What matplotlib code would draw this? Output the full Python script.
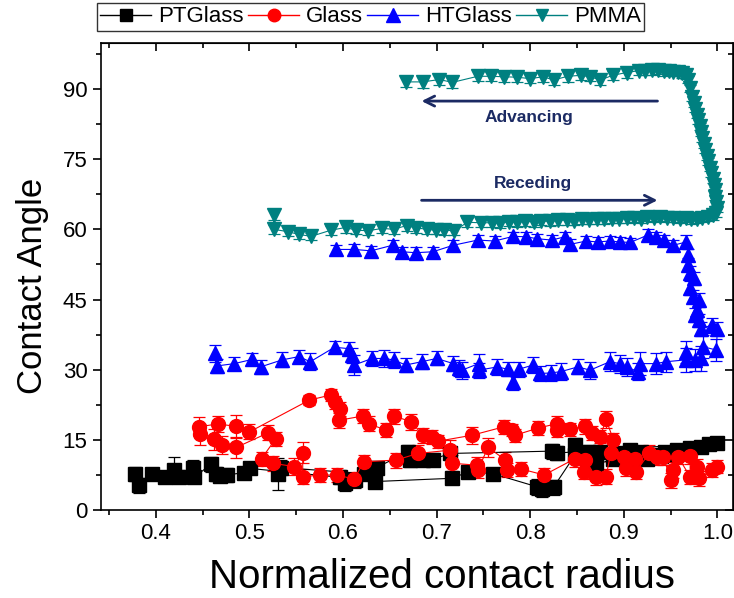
import matplotlib.pyplot as plt
from matplotlib.lines import Line2D
from matplotlib.ticker import MultipleLocator

plt.rcParams['font.family'] = ['Liberation Sans', 'DejaVu Sans']

# PTGlass: black squares
pt_x = [0.378, 0.382, 0.396, 0.410, 0.419, 0.425, 0.440, 0.441, 0.459, 0.464, 0.469, 0.476,
        0.494, 0.501, 0.597, 0.602, 0.613, 0.634, 0.717, 0.734, 0.760, 0.807, 0.813, 0.825,
        0.848, 0.862, 0.870, 0.889, 0.910, 0.925, 0.940, 0.950, 0.965,
        0.848, 0.863, 0.875, 0.896, 0.907, 0.918, 0.930, 0.944, 0.957, 0.971, 0.982, 0.991, 1.000,
        0.829, 0.823, 0.714, 0.696, 0.685, 0.672, 0.670, 0.636, 0.622, 0.534, 0.531]
pt_y = [7.8, 5.3, 7.7, 7.1, 8.5, 7.1, 9.1, 7.0, 9.8, 7.8, 7.3, 7.5,
        8.0, 8.9, 7.0, 5.8, 6.4, 6.1, 6.8, 8.2, 7.8, 5.0, 4.6, 4.9,
        11.8, 9.2, 9.6, 11.0, 10.5, 11.0, 11.5, 11.9, 12.2,
        13.9, 12.5, 12.5, 12.1, 12.8, 12.5, 11.8, 12.5, 12.8, 13.2, 13.5, 14.1, 14.4,
        12.2, 12.6, 12.1, 10.8, 10.7, 10.7, 12.5, 9.1, 7.8, 9.1, 7.7]
pt_err = [1.5, 1.6, 1.2, 1.3, 2.8, 1.4, 1.5, 1.3, 1.6, 1.5, 1.4, 1.4,
          1.3, 1.2, 1.5, 1.8, 1.6, 1.2, 1.3, 1.4, 1.3, 1.7, 1.8, 1.6,
          1.6, 1.4, 1.5, 1.3, 1.2, 1.3, 1.2, 1.3, 1.2,
          1.5, 1.4, 1.3, 1.2, 1.3, 1.2, 1.3, 1.2, 1.1, 1.2, 1.1, 1.2, 1.1,
          1.5, 1.6, 1.4, 1.3, 1.3, 1.4, 1.5, 1.4, 1.3, 1.6, 3.5]

# Glass: red circles
gl_x = [0.889, 0.881, 0.875, 0.866, 0.859, 0.843, 0.829, 0.829, 0.808, 0.784, 0.781, 0.772,
        0.738, 0.701, 0.695, 0.685, 0.673, 0.654, 0.646, 0.628, 0.621, 0.596, 0.597, 0.591,
        0.587, 0.564, 0.500, 0.486, 0.466, 0.446, 0.447, 0.462, 0.471, 0.486, 0.520, 0.528,
        0.513, 0.525, 0.548, 0.557, 0.557, 0.575, 0.594, 0.612, 0.622, 0.657, 0.680, 0.714,
        0.717, 0.743, 0.744, 0.755, 0.773, 0.775, 0.790, 0.815, 0.848, 0.858, 0.859, 0.870,
        0.881, 0.886, 0.900, 0.902, 0.912, 0.913, 0.927, 0.935, 0.942, 0.951, 0.953, 0.958,
        0.971, 0.971, 0.978, 0.980, 0.994, 1.000]
gl_y = [15.0, 19.4, 15.7, 16.4, 17.9, 17.3, 17.1, 18.5, 17.5, 16.0, 17.1, 17.8,
        16.0, 14.7, 15.7, 16.0, 18.9, 20.1, 17.1, 18.4, 20.1, 19.2, 21.6, 23.0,
        24.6, 23.5, 16.7, 17.9, 18.4, 17.8, 16.2, 15.1, 13.9, 13.4, 16.5, 15.2,
        11.0, 10.0, 9.3, 12.3, 7.1, 7.5, 7.5, 6.6, 10.3, 10.7, 12.1, 12.8,
        10.0, 9.6, 8.5, 13.4, 10.8, 8.5, 8.8, 7.5, 11.0, 8.2, 10.7, 7.1,
        7.1, 12.1, 11.3, 8.9, 11.0, 8.2, 12.1, 11.3, 11.3, 6.4, 8.5, 11.4,
        7.1, 11.5, 9.3, 6.8, 8.5, 9.3]
gl_err = [1.5, 1.8, 1.4, 1.5, 1.6, 1.4, 1.5, 1.6, 1.5, 1.4, 1.3, 1.5,
          1.8, 1.4, 1.5, 1.6, 1.7, 1.6, 1.5, 1.6, 1.5, 1.6, 1.4, 1.3,
          1.2, 1.0, 1.6, 2.5, 1.8, 2.0, 2.3, 2.2, 2.0, 2.2, 1.6, 1.5,
          1.5, 1.6, 1.8, 2.2, 1.6, 1.5, 1.4, 1.6, 1.5, 1.6, 1.8, 2.2,
          1.7, 1.8, 1.6, 2.0, 1.7, 1.5, 1.5, 1.6, 1.8, 1.6, 1.5, 1.7,
          1.6, 1.8, 1.7, 1.6, 1.5, 1.6, 1.8, 1.6, 1.7, 1.6, 1.7, 1.6,
          1.5, 1.6, 1.7, 1.6, 1.5, 1.4]

# HTGlass: blue up triangles
ht_x = [0.463, 0.465, 0.484, 0.503, 0.512, 0.535, 0.553, 0.565, 0.591, 0.606, 0.610, 0.612,
        0.631, 0.644, 0.654, 0.667, 0.684, 0.700, 0.718, 0.724, 0.727, 0.745, 0.745, 0.765,
        0.776, 0.782, 0.788, 0.803, 0.811, 0.822, 0.833, 0.851, 0.864, 0.885, 0.896, 0.903,
        0.915, 0.917, 0.934, 0.945, 0.966, 0.967, 0.976, 0.983, 0.985, 0.999,
        1.000, 0.994, 0.982, 0.980, 0.976, 0.978, 0.980, 0.974, 0.971, 0.975, 0.971, 0.969,
        0.969, 0.967,
        0.953, 0.943, 0.934, 0.926, 0.907, 0.896, 0.885, 0.872, 0.860, 0.843, 0.837, 0.823,
        0.807, 0.796, 0.782, 0.762, 0.744, 0.718, 0.696, 0.678, 0.663, 0.653, 0.630, 0.612,
        0.593]
ht_y = [33.5, 30.8, 31.3, 32.2, 30.6, 32.1, 32.8, 31.7, 34.8, 34.5, 33.1, 31.0,
        32.4, 32.4, 32.1, 31.0, 31.7, 32.4, 31.3, 30.3, 29.9, 31.3, 29.9, 30.6,
        30.1, 27.4, 30.1, 31.0, 29.2, 29.3, 29.6, 30.6, 29.9, 31.7, 31.3, 30.6,
        29.6, 31.3, 31.3, 31.7, 32.1, 33.8, 32.1, 32.4, 34.9, 34.2,
        38.8, 39.5, 38.8, 40.6, 41.7, 42.7, 44.9, 45.6, 47.4, 49.5, 50.6, 52.4,
        54.5, 57.3,
        56.6, 57.7, 58.4, 58.8, 57.2, 57.3, 57.5, 57.3, 57.5, 56.8, 58.4, 57.7,
        58.0, 58.4, 58.5, 57.5, 57.7, 56.6, 55.2, 55.0, 55.2, 56.6, 55.4, 55.7,
        55.7]
ht_err = [1.8, 1.5, 1.4, 1.3, 1.5, 1.6, 1.4, 1.8, 1.3, 1.4, 1.6, 2.2,
          1.6, 1.8, 1.7, 1.5, 1.6, 1.5, 1.6, 1.7, 1.8, 2.0, 1.6, 1.7,
          1.5, 1.7, 1.6, 1.8, 1.6, 1.7, 1.8, 1.6, 1.8, 2.0, 1.9, 2.0,
          1.8, 2.4, 2.2, 2.1, 2.5, 2.4, 2.3, 2.6, 2.5, 2.4,
          1.5, 1.6, 1.5, 1.4, 1.5, 1.6, 1.5, 1.4, 1.5, 1.4, 1.5, 1.4,
          1.3, 1.4,
          1.2, 1.0, 1.1, 1.2, 1.0, 1.1, 1.0, 1.1, 1.0, 1.2, 1.1, 1.0,
          1.0, 1.1, 1.0, 1.1, 1.0, 1.1, 1.0, 1.2, 1.0, 1.1, 1.0, 1.1,
          1.0]

# PMMA: teal down triangles
pm_x = [0.526, 0.526, 0.541, 0.553, 0.566, 0.587, 0.603, 0.614, 0.627, 0.642, 0.654, 0.668,
        0.678, 0.690, 0.699, 0.708, 0.719, 0.733, 0.747, 0.759, 0.768, 0.777, 0.786, 0.795,
        0.804, 0.812, 0.821, 0.830, 0.839, 0.847, 0.855, 0.863, 0.871, 0.879, 0.887, 0.895,
        0.903, 0.911, 0.918, 0.925, 0.932, 0.939, 0.946, 0.953, 0.960, 0.966, 0.972, 0.978,
        0.984, 0.990, 0.995, 0.999,
        1.000, 0.999, 0.998, 0.997, 0.996, 0.995, 0.993, 0.992, 0.990, 0.989, 0.987, 0.986,
        0.984, 0.983, 0.981, 0.979, 0.978, 0.976, 0.975, 0.973, 0.971, 0.969,
        0.966, 0.962, 0.958, 0.953, 0.948, 0.943, 0.937, 0.930, 0.923, 0.916, 0.903, 0.888,
        0.875, 0.864, 0.854, 0.840, 0.825, 0.814, 0.800, 0.786, 0.772, 0.758, 0.744, 0.717,
        0.703, 0.685, 0.667]
pm_y = [63.1, 60.0, 59.5, 58.9, 58.5, 59.8, 60.4, 59.8, 59.7, 60.2, 60.0, 60.8,
        60.3, 60.0, 59.8, 59.8, 59.7, 61.5, 61.4, 61.4, 61.3, 61.6, 61.5, 61.7,
        61.6, 61.8, 61.7, 61.9, 62.0, 61.8, 62.1, 62.0, 62.2, 62.1, 62.3, 62.2,
        62.4, 62.5, 62.3, 62.6, 62.5, 62.7, 62.5, 62.4, 62.3, 62.4, 62.2, 62.3,
        62.5, 62.7, 63.0, 63.5,
        64.5, 65.8, 67.0, 68.3, 69.5, 70.8, 72.0, 73.2, 74.5, 75.7, 77.0, 78.2,
        79.5, 80.7, 82.0, 83.3, 84.5, 85.8, 87.0, 88.3, 90.1, 92.0,
        93.0, 93.4, 93.6, 93.7, 93.8, 93.8, 94.0, 94.0, 93.9, 93.9, 93.5, 92.9,
        91.9, 92.6, 92.9, 92.7, 91.9, 92.6, 92.2, 92.5, 92.6, 92.7, 92.7, 91.4,
        92.0, 91.5, 91.5]
pm_err = [1.2, 1.0, 0.9, 0.9, 0.8, 1.0, 1.1, 0.9, 0.9, 1.0, 1.0, 1.1,
          1.0, 0.9, 0.9, 1.0, 0.9, 1.0, 1.0, 0.9, 1.0, 0.9, 1.0, 0.9,
          1.0, 0.9, 1.0, 0.9, 1.0, 0.9, 1.0, 0.9, 1.0, 0.9, 1.0, 0.9,
          1.0, 0.9, 1.0, 0.9, 1.0, 0.9, 1.0, 0.9, 1.0, 0.9, 1.0, 0.9,
          1.0, 0.9, 1.0, 0.9,
          0.8, 0.8, 0.8, 0.8, 0.8, 0.8, 0.8, 0.8, 0.8, 0.8, 0.8, 0.8,
          0.8, 0.8, 0.8, 0.8, 0.8, 0.8, 0.8, 0.8, 0.8, 0.8,
          0.9, 1.0, 0.9, 1.0, 0.9, 1.0, 0.9, 1.0, 0.9, 1.0, 1.1, 1.0,
          1.1, 1.0, 1.1, 1.2, 1.0, 1.1, 1.0, 1.1, 1.2, 1.0, 1.1, 1.2,
          1.1, 1.2, 1.0]

series = [
    ('PTGlass', pt_x, pt_y, pt_err, 'black', 's', 9.5),
    ('Glass', gl_x, gl_y, gl_err, '#ff0000', 'o', 10),
    ('HTGlass', ht_x, ht_y, ht_err, '#0000ff', '^', 10.5),
    ('PMMA', pm_x, pm_y, pm_err, '#008080', 'v', 10),
]

fig = plt.figure(figsize=(7.34, 5.98), dpi=100)
ax = fig.add_axes([0.137, 0.147, 0.862, 0.781])

handles = []
for name, x, y, err, color, marker, ms in series:
    ax.errorbar(x, y, yerr=err, fmt=marker + '-', color=color, ms=ms, lw=0.8,
                elinewidth=0.9, capsize=4, capthick=0.9, ecolor=color, mec=color)
    handles.append(Line2D([], [], color=color, marker=marker, ms=ms * 0.9, lw=1))

# direction arrows
navy = '#1b2a63'
ax.annotate('', xy=(0.681, 87.4), xytext=(0.939, 87.4),
            arrowprops=dict(arrowstyle='->', color=navy, lw=2, mutation_scale=18))
ax.annotate('', xy=(0.939, 66.2), xytext=(0.681, 66.2),
            arrowprops=dict(arrowstyle='->', color=navy, lw=2, mutation_scale=18))
ax.text(0.799, 83.8, 'Advancing', color=navy, fontsize=12.5, fontweight='bold',
        ha='center', va='center')
ax.text(0.803, 69.7, 'Receding', color=navy, fontsize=12.5, fontweight='bold',
        ha='center', va='center')

ax.set_xlim(0.341, 1.017)
ax.set_ylim(0, 99.8)
ax.xaxis.set_major_locator(MultipleLocator(0.1))
ax.xaxis.set_minor_locator(MultipleLocator(0.05))
ax.yaxis.set_major_locator(MultipleLocator(15))
ax.yaxis.set_minor_locator(MultipleLocator(7.5))
ax.set_xticks([0.4, 0.5, 0.6, 0.7, 0.8, 0.9, 1.0])
ax.set_xticklabels(['0.4', '0.5', '0.6', '0.7', '0.8', '0.9', '1.0'])
ax.tick_params(which='both', direction='out', labelsize=16, width=1.2)
ax.tick_params(which='major', length=6)
ax.tick_params(which='minor', length=3.5)
for s in ax.spines.values():
    s.set_linewidth(1.2)

# mirrored ticks on top and right
top = ax.secondary_xaxis('top')
top.set_xticks([0.4, 0.5, 0.6, 0.7, 0.8, 0.9, 1.0])
top.xaxis.set_minor_locator(MultipleLocator(0.05))
top.tick_params(which='both', direction='in', labeltop=False, width=1.2)
top.tick_params(which='major', length=6)
top.tick_params(which='minor', length=3.5)
right = ax.secondary_yaxis('right')
right.yaxis.set_major_locator(MultipleLocator(15))
right.yaxis.set_minor_locator(MultipleLocator(7.5))
right.tick_params(which='both', direction='in', labelright=False, width=1.2)
right.tick_params(which='major', length=6)
right.tick_params(which='minor', length=3.5)

ax.set_xlabel('Normalized contact radius', fontsize=29, labelpad=10)
ax.set_ylabel('Contact Angle', fontsize=25, labelpad=10)
ax.xaxis.label.set_x(0.539)
ax.yaxis.label.set_y(0.48)

leg = fig.legend(handles, [s[0] for s in series], loc='upper left',
                 bbox_to_anchor=(97 / 734, 1 - 3 / 598), ncol=4, fontsize=16,
                 frameon=True, fancybox=False, edgecolor='black', borderpad=0.15,
                 handlelength=2.3, handletextpad=0.3, columnspacing=0.2,
                 borderaxespad=0)
leg.get_frame().set_linewidth(1.0)

fig.savefig('out.png', dpi=100)
